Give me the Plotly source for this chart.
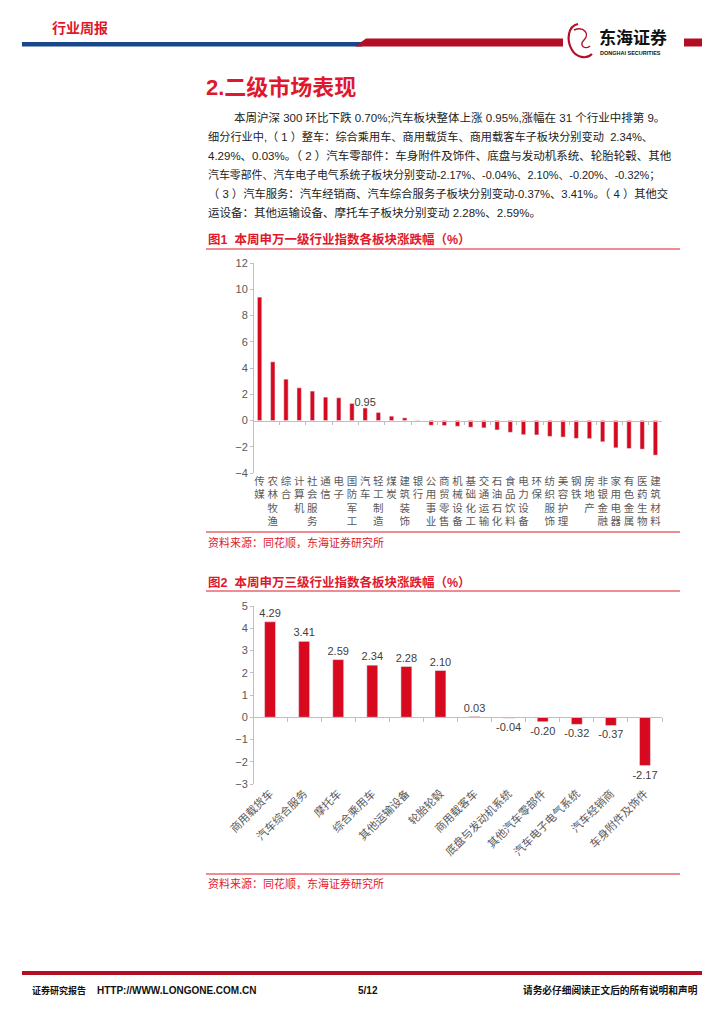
import plotly.graph_objects as go

W, H = 724, 1024

# ---------------- data ----------------
ind_names = ["传媒", "农林牧渔", "综合", "计算机", "社会服务", "通信", "电子", "国防军工", "汽车",
             "轻工制造", "煤炭", "建筑装饰", "银行", "公用事业", "商贸零售", "机械设备", "基础化工",
             "交通运输", "石油石化", "食品饮料", "电力设备", "环保", "纺织服饰", "美容护理", "钢铁",
             "房地产", "非银金融", "家用电器", "有色金属", "医药生物", "建筑材料"]
ind_values = [9.40, 4.47, 3.15, 2.49, 2.24, 1.78, 1.73, 1.30, 0.95,
              0.61, 0.33, 0.20, 0.02, -0.36, -0.38, -0.44, -0.51,
              -0.56, -0.72, -0.90, -1.08, -1.10, -1.21, -1.26, -1.36,
              -1.38, -1.62, -2.08, -2.13, -2.18, -2.64]
ind_labelled = ["汽车"]

sub_names = ["商用载货车", "汽车综合服务", "摩托车", "综合乘用车", "其他运输设备", "轮胎轮毂",
             "商用载客车", "底盘与发动机系统", "其他汽车零部件", "汽车电子电气系统", "汽车经销商",
             "车身附件及饰件"]
sub_values = [4.29, 3.41, 2.59, 2.34, 2.28, 2.10, 0.03, -0.04, -0.20, -0.32, -0.37, -2.17]

y1_range = [-4, 12]
y1_dtick = 2
y2_range = [-3, 5]
y2_dtick = 1

paragraph = [
    "本周沪深 300 环比下跌 0.70%;汽车板块整体上涨 0.95%,涨幅在 31 个行业中排第 9。",
    "细分行业中,（ 1 ）整车：综合乘用车、商用载货车、商用载客车子板块分别变动  2.34%、",
    "4.29%、0.03%。（ 2 ）汽车零部件：车身附件及饰件、底盘与发动机系统、轮胎轮毂、其他",
    "汽车零部件、汽车电子电气系统子板块分别变动-2.17%、-0.04%、2.10%、-0.20%、-0.32%；",
    "（ 3 ）汽车服务：汽车经销商、汽车综合服务子板块分别变动-0.37%、3.41%。（ 4 ）其他交",
    "运设备：其他运输设备、摩托车子板块分别变动 2.28%、2.59%。",
]

# ---------------- style ----------------
BAR = "#D7091F"
RED = "#E0182D"
DARKRED = "#B20F24"
BLUE = "#17468A"
AXIS = "#BFBFBF"
TICKC = "#595959"
FONT = "Liberation Sans, Noto Sans CJK SC, sans-serif"


def fx(x):
    return x / W


def fy(y):
    return 1 - y / H


fig = go.Figure()

# ---------- chart 1 ----------
text1 = [f"{v:.2f}" if n in ind_labelled else "" for n, v in zip(ind_names, ind_values)]
fig.add_trace(go.Bar(x=ind_names, y=ind_values, marker_color=BAR, width=0.33,
                     text=text1, textposition="outside", cliponaxis=False, constraintext="none",
                     textfont=dict(size=11, color="#404040", family=FONT),
                     xaxis="x", yaxis="y", showlegend=False))
fig.add_trace(go.Scatter(x=ind_names, y=ind_values, mode="markers", marker=dict(opacity=0),
                         hoverinfo="skip", xaxis="x2", yaxis="y", showlegend=False))

# ---------- chart 2 ----------
text2 = [f"{v:.2f}" for v in sub_values]
fig.add_trace(go.Bar(x=sub_names, y=sub_values, marker_color=BAR, width=0.32,
                     text=text2, textposition="outside", cliponaxis=False, constraintext="none",
                     textfont=dict(size=11, color="#404040", family=FONT),
                     xaxis="x3", yaxis="y3", showlegend=False))
fig.add_trace(go.Scatter(x=sub_names, y=sub_values, mode="markers", marker=dict(opacity=0),
                         hoverinfo="skip", xaxis="x4", yaxis="y3", showlegend=False))

dom_x = [fx(253), fx(662)]
dom_y1 = [fy(473), fy(263)]
dom_y2 = [fy(784), fy(606)]


def zero_pos(dom, rng):
    return dom[0] + (dom[1] - dom[0]) * (0 - rng[0]) / (rng[1] - rng[0])


vert_labels = ["<br>".join(list(n)) for n in ind_names]

fig.update_layout(
    width=W, height=H, margin=dict(l=0, r=0, t=0, b=0, autoexpand=False),
    paper_bgcolor="white", plot_bgcolor="white",
    font=dict(family=FONT, color=TICKC, size=11),
    xaxis=dict(domain=dom_x, anchor="free", position=zero_pos(dom_y1, y1_range),
               type="category", categoryorder="array", categoryarray=ind_names,
               range=[-0.5, len(ind_names) - 0.5],
               showline=True, linecolor=AXIS, linewidth=1, ticks="outside",
               tickson="boundaries", ticklen=3, tickcolor=AXIS,
               showticklabels=False, showgrid=False, zeroline=False, fixedrange=True),
    xaxis2=dict(overlaying="x", anchor="y", side="bottom", type="category",
                categoryorder="array", categoryarray=ind_names,
                range=[-0.5, len(ind_names) - 0.5], showline=False, ticks="",
                tickmode="array", tickvals=ind_names, ticktext=vert_labels, tickangle=0,
                tickfont=dict(size=10.5, color=TICKC, family=FONT),
                showgrid=False, zeroline=False),
    yaxis=dict(domain=dom_y1, anchor="free", position=dom_x[0], range=y1_range, dtick=y1_dtick,
               showline=True, linecolor=AXIS, linewidth=1, ticks="outside", ticklen=3,
               tickcolor=AXIS, showgrid=False, zeroline=False,
               tickfont=dict(size=11, color=TICKC, family=FONT)),
    xaxis3=dict(domain=dom_x, anchor="free", position=zero_pos(dom_y2, y2_range),
                type="category", categoryorder="array", categoryarray=sub_names,
                range=[-0.5, len(sub_names) - 0.5],
                showline=True, linecolor=AXIS, linewidth=1, ticks="outside",
                tickson="boundaries", ticklen=4, tickcolor=AXIS,
                showticklabels=False, showgrid=False, zeroline=False),
    xaxis4=dict(overlaying="x3", anchor="y3", side="bottom", type="category",
                categoryorder="array", categoryarray=sub_names,
                range=[-0.5, len(sub_names) - 0.5], showline=False, ticks="",
                tickangle=-45, tickfont=dict(size=11, color=TICKC, family=FONT),
                showgrid=False, zeroline=False),
    yaxis3=dict(domain=dom_y2, anchor="free", position=dom_x[0], range=y2_range, dtick=y2_dtick,
                showline=True, linecolor=AXIS, linewidth=1, ticks="outside", ticklen=3,
                tickcolor=AXIS, showgrid=False, zeroline=False,
                tickfont=dict(size=11, color=TICKC, family=FONT)),
)

shapes = []
annotations = []


def rect(x0, y0, x1, y1, color):
    shapes.append(dict(type="rect", xref="paper", yref="paper", x0=fx(x0), x1=fx(x1),
                       y0=fy(y1), y1=fy(y0), fillcolor=color, line=dict(width=0)))


def hline(x0, x1, y, color, w=1.2):
    shapes.append(dict(type="line", xref="paper", yref="paper", x0=fx(x0), x1=fx(x1),
                       y0=fy(y), y1=fy(y), line=dict(color=color, width=w)))


def text(x, y, s, size, color, bold=False, anchor="left", family=FONT):
    if bold:
        s = f"<b>{s}</b>"
    annotations.append(dict(xref="paper", yref="paper", x=fx(x), y=fy(y), text=s,
                            showarrow=False, xanchor=anchor, yanchor="middle",
                            font=dict(size=size, color=color, family=family)))


# header
rect(22, 42, 362, 46.5, BLUE)
shapes.append(dict(type="path", xref="paper", yref="paper",
                   path=f"M {fx(355)},{fy(46.5)} L {fx(366)},{fy(38.5)} L {fx(563)},{fy(38.5)} L {fx(563)},{fy(46.5)} Z",
                   fillcolor=DARKRED, line=dict(width=0)))
rect(684, 38.5, 702, 46.5, DARKRED)
# logo swirl
shapes.append(dict(type="path", xref="paper", yref="paper",
                   path=(f"M {fx(578)},{fy(24)} C {fx(568)},{fy(26)} {fx(566)},{fy(40)} {fx(572)},{fy(50)} "
                         f"C {fx(576)},{fy(57)} {fx(586)},{fy(60)} {fx(592)},{fy(54)}"),
                   line=dict(color=DARKRED, width=2.2)))
shapes.append(dict(type="path", xref="paper", yref="paper",
                   path=(f"M {fx(574)},{fy(30)} C {fx(584)},{fy(26)} {fx(590)},{fy(34)} {fx(584)},{fy(40)} "
                         f"C {fx(578)},{fy(46)} {fx(586)},{fy(50)} {fx(590)},{fy(46)}"),
                   line=dict(color=DARKRED, width=1.4)))
text(50, 28, "行业周报", 14, RED, bold=True)
text(597, 38, "东海证券", 17, "#111111", bold=True)
text(598, 53, "DONGHAI SECURITIES", 5.5, "#111111", bold=True)

# heading and paragraph
text(204, 87, "2.二级市场表现", 22, RED, bold=True)
line_y = [117, 136, 155, 174, 193, 212]
line_size = [11.5, 11.2, 11.5, 10.9, 11.3, 11.5]
for i, (s, y, sz) in enumerate(zip(paragraph, line_y, line_size)):
    text(232 if i == 0 else 206, y, s, sz, "#222222")

# chart 1 title & source
text(206, 239, "图1  本周申万一级行业指数各板块涨跌幅（%）", 12.5, RED, bold=True)
hline(206, 680, 249, RED)
hline(206, 680, 532, RED)
text(206, 542, "资料来源：同花顺，东海证券研究所", 11, RED)

# chart 2 title & source
text(206, 582, "图2  本周申万三级行业指数各板块涨跌幅（%）", 12.5, RED, bold=True)
hline(206, 680, 591, RED)
hline(206, 680, 874, RED)
text(206, 883, "资料来源：同花顺，东海证券研究所", 11, RED)

# footer
rect(22, 971, 702, 975, DARKRED)
text(30, 990, "证券研究报告", 9, "#111111", bold=True)
text(95, 990, "HTTP://WWW.LONGONE.COM.CN", 10, "#111111", bold=True)
text(368, 990, "5/12", 10, "#111111", bold=True, anchor="center")
text(700, 990, "请务必仔细阅读正文后的所有说明和声明", 9.7, "#111111", bold=True, anchor="right")

fig.update_layout(shapes=shapes, annotations=annotations)

fig.write_html("out.html", config={"displayModeBar": False},
               post_script="document.body.style.margin='0';document.documentElement.style.overflow='hidden';")
